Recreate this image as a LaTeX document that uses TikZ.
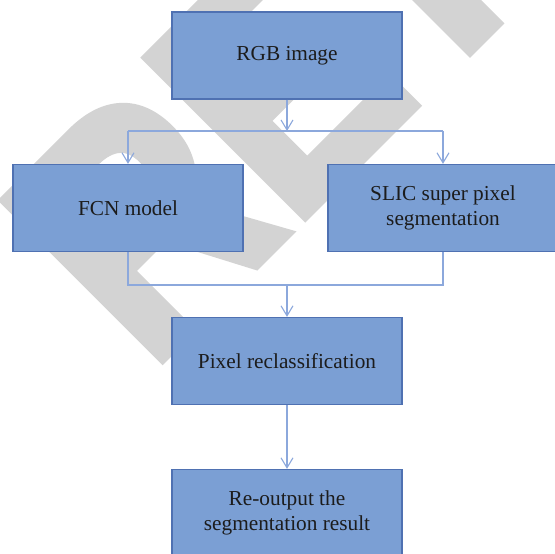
\documentclass[tikz,border=0pt]{standalone}
\usepackage{fontspec}
\setmainfont{Liberation Serif}
\newfontfamily\wmfont{Liberation Sans}[BoldFeatures={FakeBold=3}]
\usetikzlibrary{arrows.meta}
\definecolor{boxfill}{RGB}{123,159,212}
\definecolor{boxline}{RGB}{79,113,178}
\definecolor{connc}{RGB}{140,168,220}
\definecolor{wmgray}{RGB}{211,211,211}
\definecolor{txt}{RGB}{28,28,28}
\begin{document}
\begin{tikzpicture}[x=1pt,y=-1pt,
  blk/.style={draw=boxline, line width=1.3pt, fill=boxfill, minimum width=230pt,
    minimum height=87pt, inner sep=0pt, text=txt,
    font=\fontsize{21.3}{24.5}\selectfont, align=center},
  conn/.style={draw=connc, line width=1.1pt},
  arr/.style={conn, -{Straight Barb[length=10pt,width=12pt]}}]
\path[use as bounding box] (0,0) rectangle (555,554);
\clip (0,0) rectangle (555,554);
% watermark
\node[rotate=45, anchor=base west, inner sep=0pt, text=wmgray,
  font=\wmfont\bfseries\fontsize{325}{325}\selectfont] (wm) at (148.8,372.2)
  {\scalebox{0.86}[1]{RETRACTED}};
% nodes
\node[blk] (rgb) at (287,55.5) {RGB image};
\node[blk] (fcn) at (128,208) {FCN model};
\node[blk] (slic) at (443,208) {SLIC super pixel\\segmentation};
\node[blk] (pix) at (287,361) {Pixel reclassification};
\node[blk] (out) at (287,513) {Re-output the\\segmentation result};
\coordinate (split) at (287,131);
\coordinate (merge) at (287,285);
% connectors
\draw[arr] (rgb.south) -- (split);
\draw[conn] (fcn.north |- split) -- (slic.north |- split);
\draw[arr] (fcn.north |- split) -- (fcn.north);
\draw[arr] (slic.north |- split) -- (slic.north);
\draw[conn] (fcn.south) |- (merge) -| (slic.south);
\draw[arr] (merge) -- (pix.north);
\draw[arr] (pix.south) -- (out.north);
\end{tikzpicture}
\end{document}
